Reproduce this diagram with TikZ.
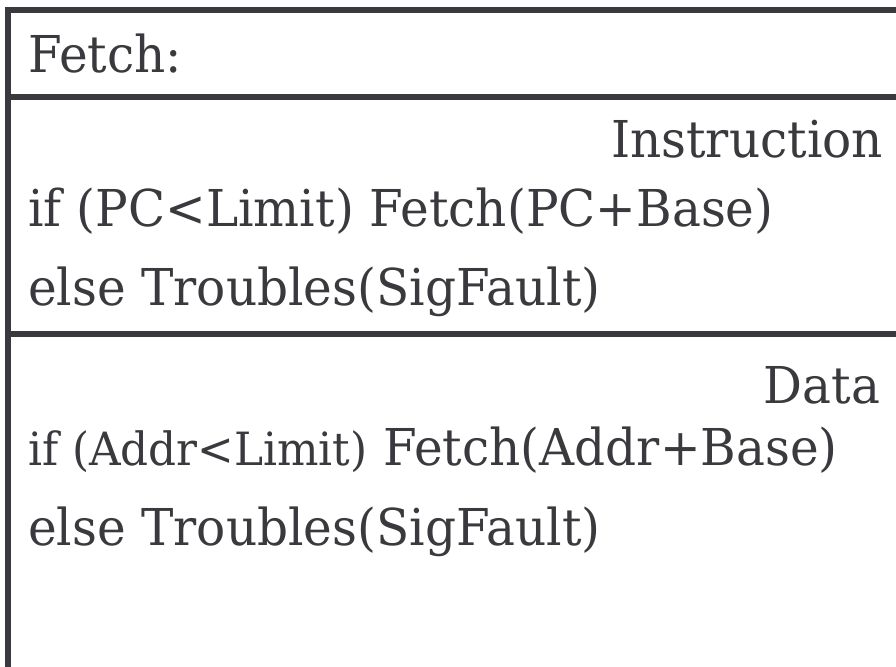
\documentclass[tikz,border=0pt]{standalone}
\usepackage{fontspec}
\setmainfont{DejaVu Serif}[FakeStretch=0.955]
\definecolor{ink}{RGB}{58,58,62}
\tikzset{
  frame/.style={draw=ink, line width=6bp, line join=miter},
  txt/.style={inner sep=0pt, outer sep=0pt, text=ink, font=\fontsize{51}{60}\selectfont}
}
\begin{document}
\begin{tikzpicture}[x=1bp,y=-1bp]
\useasboundingbox (0,0) rectangle (896,667);
% outer frame: left edge and top edge
\draw[frame] (8,667) -- (8,10) -- (896,10);
% section dividers
\draw[frame] (5,97) -- (896,97);
\draw[frame] (5,334) -- (896,334);
% header
\node[txt, anchor=base west] (head) at (28,73) {Fetch:};
% instruction section
\node[txt, anchor=base east] (ilabel) at (883,158) {Instruction};
\node[txt, anchor=base west] (iline1) at (28,226) {if (PC<Limit) Fetch(PC+Base)};
\node[txt, anchor=base west] (iline2) at (28,305) {else Troubles(SigFault)};
% data section
\node[txt, anchor=base east] (dlabel) at (880,403) {Data};
\node[txt, anchor=base west] (dline1) at (28,465) {{\fontsize{46}{54}\selectfont if (Addr<Limit)} Fetch(Addr+Base)};
\node[txt, anchor=base west] (dline2) at (28,545) {else Troubles(SigFault)};
\end{tikzpicture}
\end{document}
